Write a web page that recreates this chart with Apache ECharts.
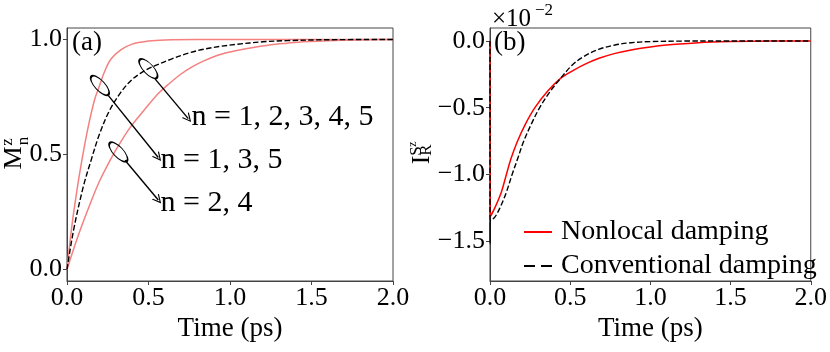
<!DOCTYPE html>
<html><head><meta charset="utf-8">
<script src="https://cdn.jsdelivr.net/npm/echarts@6/dist/echarts.min.js"></script>
<style>html,body{margin:0;padding:0;background:#fff}#c{width:830px;height:352px}</style>
</head><body><div id="c"></div>
<script>
// ---- Panel (a): M_n^z vs time ----
const tFast = [0, 0.03, 0.06, 0.09, 0.13, 0.17, 0.2, 0.23, 0.27, 0.33, 0.4, 0.5, 0.6, 0.8, 1.0, 1.5, 2.0];
const mFast = [0, 0.19, 0.34, 0.47, 0.62, 0.74, 0.80, 0.86, 0.915, 0.955, 0.98, 0.993, 0.998, 1.0, 1.0, 1.0, 1.0];
const tConvA = [0, 0.04, 0.1, 0.15, 0.2, 0.26, 0.33, 0.39, 0.45, 0.5, 0.54, 0.64, 0.75, 0.84, 0.94, 1.04, 1.2, 1.35, 1.6, 2.0];
const mConvA = [0, 0.17, 0.36, 0.48, 0.59, 0.69, 0.77, 0.82, 0.853, 0.873, 0.886, 0.915, 0.942, 0.958, 0.97, 0.979, 0.99, 0.995, 0.999, 1.0];
const tSlow = [0, 0.07, 0.15, 0.2, 0.28, 0.33, 0.39, 0.47, 0.56, 0.63, 0.7, 0.77, 0.84, 0.94, 1.04, 1.15, 1.25, 1.35, 1.45, 1.65, 1.85, 2.0];
const mSlow = [0, 0.15, 0.30, 0.385, 0.495, 0.555, 0.62, 0.69, 0.765, 0.81, 0.85, 0.882, 0.907, 0.935, 0.952, 0.966, 0.977, 0.984, 0.99, 0.996, 0.999, 1.0];

// annotations in data coords of panel (a)
const ellipseCenters = [[0.202, 0.800], [0.499, 0.873], [0.315, 0.511]];
const arrows = [[0.253, 0.757, 0.560, 0.487], [0.540, 0.829, 0.744, 0.656], [0.356, 0.475, 0.560, 0.302]];
const annoAnchors = [[0.571, 0.475], [0.761, 0.662], [0.571, 0.289]];
const annoTexts = ['n = 1, 3, 5', 'n = 1, 2, 3, 4, 5', 'n = 2, 4'];

// ---- Panel (b): I_R^{S^z} (x1e-2) vs time ----
const tNonlocal = [0, 0.001, 0.03, 0.07, 0.1, 0.13, 0.17, 0.22, 0.28, 0.36, 0.44, 0.52, 0.59, 0.68, 0.78, 0.88, 1.0, 1.1, 1.3, 1.5, 1.75, 2.0];
const iNonlocal = [0, -1.316, -1.25, -1.135, -1.01, -0.885, -0.755, -0.625, -0.5, -0.375, -0.28, -0.22, -0.175, -0.13, -0.093, -0.067, -0.045, -0.031, -0.013, -0.005, -0.001, 0];
const tConventional = [0, 0.0003, 0.0008, 0.03, 0.062, 0.1, 0.138, 0.174, 0.21, 0.256, 0.308, 0.375, 0.441, 0.513, 0.585, 0.677, 0.78, 0.88, 1.0, 1.2, 1.5, 2.0];
const iConventional = [0, -1.52, -1.355, -1.32, -1.25, -1.14, -1.0, -0.876, -0.752, -0.627, -0.503, -0.378, -0.279, -0.18, -0.117, -0.063, -0.03, -0.013, -0.005, -0.001, 0, 0];

const xTicks = [0, 0.5, 1.0, 1.5, 2.0];
const yTicksA = [0, 0.5, 1.0];
const yTicksB = [-1.5, -1.0, -0.5, 0];
const seriesNames = ['Nonlocal damping', 'Conventional damping'];

const FF = '"Liberation Serif", "Times New Roman", serif';
const AX = '#444';
const zip = (a, b) => a.map((v, i) => [v, b[i]]);
const fmt = v => (v < 0 ? '\u2212' : '') + Math.abs(v).toFixed(1);

function xAxis(grid) {
  return {
    type: 'value', gridIndex: grid, min: 0, max: 2, interval: 0.5,
    name: 'Time (ps)', nameLocation: 'middle', nameGap: 22,
    nameTextStyle: { fontFamily: FF, fontSize: 27, color: '#000' },
    axisLine: { show: true, onZero: false, lineStyle: { color: AX, width: 1 } },
    axisTick: { show: true, length: 4, customValues: xTicks, lineStyle: { color: AX } },
    axisLabel: { fontFamily: FF, fontSize: 26, color: '#000', margin: 4, customValues: xTicks, formatter: v => fmt(v) },
    splitLine: { show: false }
  };
}
function yAxis(grid, min, max, ticks) {
  return {
    type: 'value', gridIndex: grid, min: min, max: max,
    axisLine: { show: true, onZero: false, lineStyle: { color: AX, width: 1 } },
    axisTick: { show: true, length: 4, customValues: ticks, lineStyle: { color: AX } },
    axisLabel: { fontFamily: FF, fontSize: 26, color: '#000', margin: 5, customValues: ticks, formatter: v => fmt(v) },
    splitLine: { show: false }
  };
}
const lineBase = { type: 'line', symbol: 'none', showSymbol: false, smooth: 0.35 };

const chart = echarts.init(document.getElementById('c'), null, { renderer: 'canvas' });
chart.setOption({
  animation: false,
  backgroundColor: '#fff',
  grid: [
    { left: 67, right: 437, top: 28, bottom: 71, show: true, borderColor: AX, borderWidth: 1 },
    { left: 490, right: 15, top: 28, bottom: 71, show: true, borderColor: AX, borderWidth: 1 }
  ],
  xAxis: [xAxis(0), xAxis(1)],
  yAxis: [yAxis(0, -0.05, 1.05, yTicksA), yAxis(1, -1.798, 0.097, yTicksB)],
  legend: {
    data: [
      { name: seriesNames[0], icon: 'path://M0,0 L28,0 L28,2 L0,2 Z' },
      { name: seriesNames[1], icon: 'path://M0,0 L11,0 L11,2 L0,2 Z M17,0 L28,0 L28,2 L17,2 Z' }
    ],
    orient: 'vertical', left: 519, top: 213,
    itemWidth: 28, itemHeight: 2, itemGap: 6,
    textStyle: { fontFamily: FF, fontSize: 28, color: '#000', padding: [0, 0, 0, 4] },
    inactiveColor: '#000'
  },
  series: [
    Object.assign({}, lineBase, { xAxisIndex: 0, yAxisIndex: 0, data: zip(tFast, mFast),
      lineStyle: { color: '#f58080', width: 1.5 }, z: 2 }),
    Object.assign({}, lineBase, { xAxisIndex: 0, yAxisIndex: 0, data: zip(tSlow, mSlow),
      lineStyle: { color: '#f58080', width: 1.5 }, z: 2 }),
    Object.assign({}, lineBase, { xAxisIndex: 0, yAxisIndex: 0, data: zip(tConvA, mConvA),
      lineStyle: { color: '#000', width: 1.4, type: [5.5, 2.4] }, z: 3 }),
    {
      type: 'scatter', xAxisIndex: 0, yAxisIndex: 0, silent: true, z: 5,
      data: ellipseCenters.map(c => ({ value: c, symbolSize: [25, 10], symbolRotate: -47 })),
      itemStyle: { color: 'rgba(0,0,0,0)', borderColor: '#000', borderWidth: 1.4, opacity: 1 },
      markLine: {
        silent: true, animation: false,
        symbol: ['none', 'path://M0,10 L5,0 L10,10 L8.6,10 L5,2.8 L1.4,10 Z'], symbolSize: [9, 9],
        lineStyle: { color: '#000', width: 1.4, type: 'solid', opacity: 1 },
        label: { show: false },
        data: arrows.map(a => [{ coord: [a[0], a[1]] }, { coord: [a[2], a[3]] }])
      }
    },
    {
      type: 'scatter', xAxisIndex: 0, yAxisIndex: 0, silent: true, z: 5, symbolSize: 1,
      itemStyle: { opacity: 0 },
      data: annoAnchors.map((c, i) => ({ value: c, name: annoTexts[i] })),
      label: { show: true, position: 'right', distance: 0, formatter: p => p.name, fontFamily: FF, fontSize: 30, color: '#000', opacity: 1 }
    },
    Object.assign({}, lineBase, { name: seriesNames[0], xAxisIndex: 1, yAxisIndex: 1, data: zip(tNonlocal, iNonlocal),
      lineStyle: { color: '#ff0000', width: 1.5 }, itemStyle: { color: '#ff0000' }, z: 2 }),
    Object.assign({}, lineBase, { name: seriesNames[1], xAxisIndex: 1, yAxisIndex: 1, data: zip(tConventional, iConventional),
      lineStyle: { color: '#000', width: 1.4, type: [5.5, 2.4] }, itemStyle: { color: '#000' }, z: 3 })
  ],
  graphic: [
    { type: 'text', x: 72, y: 43, style: { text: '(a)', fontFamily: FF, fontSize: 27, fill: '#000', align: 'left', verticalAlign: 'middle' } },
    { type: 'text', x: 494, y: 43, style: { text: '(b)', fontFamily: FF, fontSize: 27, fill: '#000', align: 'left', verticalAlign: 'middle' } },
    // y label (a): M_n^z
    { type: 'text', x: 14, y: 158, rotation: Math.PI / 2, style: { text: 'M', fontFamily: FF, fontSize: 26, fill: '#000', align: 'center', verticalAlign: 'middle' } },
    { type: 'text', x: 8, y: 142, rotation: Math.PI / 2, style: { text: 'z', fontFamily: FF, fontSize: 17, fill: '#000', align: 'center', verticalAlign: 'middle' } },
    { type: 'text', x: 24, y: 141, rotation: Math.PI / 2, style: { text: 'n', fontFamily: FF, fontSize: 17, fill: '#000', align: 'center', verticalAlign: 'middle' } },
    // y label (b): I_R^{S^z}
    { type: 'text', x: 422, y: 160, rotation: Math.PI / 2, style: { text: 'I', fontFamily: FF, fontSize: 26, fill: '#000', align: 'center', verticalAlign: 'middle' } },
    { type: 'text', x: 417, y: 151, rotation: Math.PI / 2, style: { text: 'S', fontFamily: FF, fontSize: 17, fill: '#000', align: 'center', verticalAlign: 'middle' } },
    { type: 'text', x: 413, y: 144, rotation: Math.PI / 2, style: { text: 'z', fontFamily: FF, fontSize: 12, fill: '#000', align: 'center', verticalAlign: 'middle' } },
    { type: 'text', x: 427, y: 150, rotation: Math.PI / 2, style: { text: 'R', fontFamily: FF, fontSize: 17, fill: '#000', align: 'center', verticalAlign: 'middle' } },
    // offset text x10^-2
    { type: 'text', x: 492, y: 19, style: { text: '\u00d710', fontFamily: FF, fontSize: 25, fill: '#000', align: 'left', verticalAlign: 'middle' } },
    { type: 'text', x: 535, y: 11, style: { text: '\u22122', fontFamily: FF, fontSize: 17, fill: '#000', align: 'left', verticalAlign: 'middle' } }
  ]
});
</script></body></html>
